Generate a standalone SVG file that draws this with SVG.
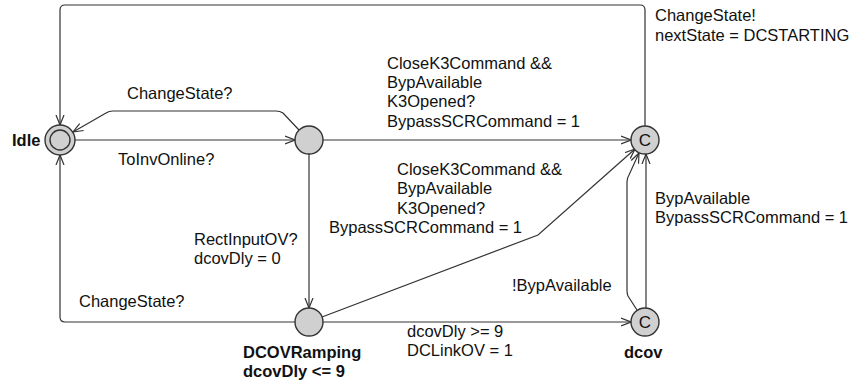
<svg xmlns="http://www.w3.org/2000/svg" width="855" height="382" viewBox="0 0 855 382">
  <style>
    .edge { fill: none; stroke: #333; stroke-width: 1.2; marker-end: url(#arr); }
    .loc { fill: #d0d0d0; stroke: #333; stroke-width: 1.4; }
    text { font-family: "Liberation Sans", Arial, sans-serif; font-size: 16.5px; fill: #111; }
    .name { font-weight: bold; }
    .c { text-anchor: middle; font-size: 17px; }
  </style>
  <defs>
    <marker id="arr" viewBox="0 0 10 10" refX="10" refY="5" markerWidth="10" markerHeight="10" markerUnits="userSpaceOnUse" orient="auto">
      <path d="M0,1 L10,5 L0,9" fill="none" stroke="#333" stroke-width="1.2"/>
    </marker>
  </defs>
  <rect width="855" height="382" fill="#fff"/>

  <!-- transitions -->
  <g id="edges">
    <path class="edge" d="M645,126 L645,10 Q645,5 640,5 L65,5 Q60,5 60,10 L60,125"/>
    <path class="edge" d="M295,322 L65,322 Q60,322 60,317 L60,155"/>
    <path class="edge" d="M75,140 L295,140"/>
    <path class="edge" d="M299,130 L283,113 Q280,111 276,111 L113,111 Q109,111 106,113 L73,132"/>
    <path class="edge" d="M323,140 L631,140"/>
    <path class="edge" d="M309,154 L309,308"/>
    <path class="edge" d="M322,317 L538,235 L635,149"/>
    <path class="edge" d="M323,322 L631,322"/>
    <path class="edge" d="M637,310 L628,296 Q627,294 627,290 L627,182 Q627,178 629,175 L639,153"/>
    <path class="edge" d="M646,308 L646,154"/>

    <text x="655" y="21">ChangeState!</text>
    <text x="655" y="41">nextState = DCSTARTING</text>
    <text x="127" y="99">ChangeState?</text>
    <text x="118" y="165">ToInvOnline?</text>
    <text x="387" y="68.5">CloseK3Command &amp;&amp;</text>
    <text x="387" y="87.5">BypAvailable</text>
    <text x="387" y="107">K3Opened?</text>
    <text x="387" y="126.5">BypassSCRCommand = 1</text>
    <text x="397" y="175">CloseK3Command &amp;&amp;</text>
    <text x="397" y="194">BypAvailable</text>
    <text x="397" y="213.5">K3Opened?</text>
    <text x="329" y="233">BypassSCRCommand = 1</text>
    <text x="655" y="204">BypAvailable</text>
    <text x="655" y="223">BypassSCRCommand = 1</text>
    <text x="194" y="245">RectInputOV?</text>
    <text x="194" y="264">dcovDly = 0</text>
    <text x="79" y="307">ChangeState?</text>
    <text x="512" y="291">!BypAvailable</text>
    <text x="407" y="337">dcovDly &gt;= 9</text>
    <text x="407" y="356">DCLinkOV = 1</text>
  </g>

  <!-- locations -->
  <g id="idle">
    <circle class="loc" cx="60" cy="140" r="15"/>
    <circle class="loc" cx="60" cy="140" r="10"/>
    <text class="name" x="12" y="146">Idle</text>
  </g>
  <g id="waiting">
    <circle class="loc" cx="309" cy="140" r="14"/>
  </g>
  <g id="bypass">
    <circle class="loc" cx="645" cy="140" r="14"/>
    <text class="c" x="645" y="146">C</text>
  </g>
  <g id="dcovramping">
    <circle class="loc" cx="309" cy="322" r="14"/>
    <text class="name" x="243" y="358">DCOVRamping</text>
    <text class="name" x="243" y="377">dcovDly &lt;= 9</text>
  </g>
  <g id="dcov">
    <circle class="loc" cx="645" cy="322" r="14"/>
    <text class="c" x="645" y="328">C</text>
    <text class="name" x="624" y="358">dcov</text>
  </g>
</svg>
